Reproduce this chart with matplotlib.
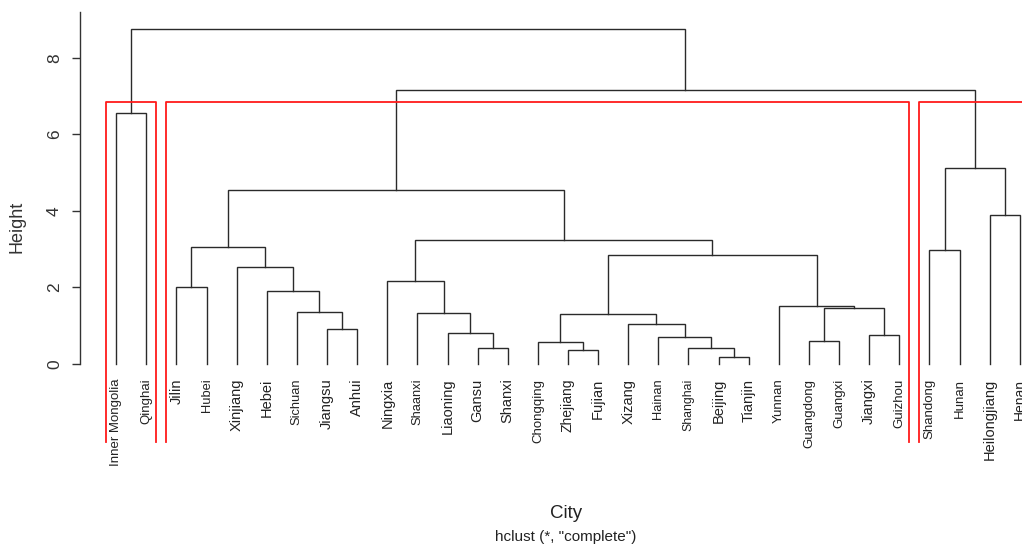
import matplotlib
matplotlib.use("Agg")
import matplotlib.pyplot as plt

# ---- data -------------------------------------------------------------
labels = ["Inner Mongolia", "Qinghai", "Jilin", "Hubei", "Xinjiang", "Hebei",
          "Sichuan", "Jiangsu", "Anhui", "Ningxia", "Shaanxi", "Liaoning",
          "Gansu", "Shanxi", "Chongqing", "Zhejiang", "Fujian", "Xizang",
          "Hainan", "Shanghai", "Beijing", "Tianjin", "Yunnan", "Guangdong",
          "Guangxi", "Jiangxi", "Guizhou", "Shandong", "Hunan",
          "Heilongjiang", "Henan"]

# R-style merge matrix (negative = leaf position, positive = earlier merge)
merge_left = [-21, -16, -13, -20, -15, -24, -19, -26, -12, -8,
              -18, 5, -11, -7, 6, -23, -6, -3, -10, -5,
              12, -28, 18, 19, -30, 23, 22, -1, 26, 28]
merge_right = [-22, -17, -14, 1, 2, -25, 4, -27, 3, -9,
               7, 11, 9, 10, 8, 15, 14, -4, 13, 17,
               16, -29, 20, 21, -31, 24, 25, -2, 27, 29]
merge_height = [0.17, 0.37, 0.43, 0.43, 0.58, 0.59, 0.71, 0.77, 0.82, 0.91,
                1.05, 1.31, 1.34, 1.36, 1.46, 1.52, 1.91, 2.00, 2.17, 2.53,
                2.85, 2.99, 3.07, 3.24, 3.90, 4.56, 5.13, 6.55, 7.15, 8.76]

n_clusters = 3
y_ticks = [0, 2, 4, 6, 8]

# ---- style -------------------------------------------------------------
label_sizes = [9.5, 9.5, 10.5, 9.3, 10.5, 10.5, 9.3, 10.5, 10.5, 10.5, 9.3, 10.5,
               10.5, 10.5, 9.5, 10, 10.5, 10.5, 9.3, 8.8, 10.5, 10.5, 9.5,
               9.5, 9.5, 10.5, 9.5, 9.5, 9.5, 10.5, 10]
FONT = ["Liberation Sans", "DejaVu Sans"]
LINE_C = "#2a2a2a"

W, H = 1022, 547
fig = plt.figure(figsize=(W / 100, H / 100), dpi=100)
# plot region in pixels: left 80, right 1056 (beyond figure), top 12, bottom 442
ax = fig.add_axes([80 / W, (H - 442) / H, (1056 - 80) / W, (442 - 12) / H])
n = len(labels)
ax.set_xlim(-0.2, n + 1.2)
ax.set_ylim(-2.04, 9.2)

# ---- dendrogram -------------------------------------------------------
node_x = {}
node_y = {}


def pos(ref):
    if ref < 0:
        return float(-ref), 0.0
    return node_x[ref], node_y[ref]


for i in range(len(merge_height)):
    lx, ly = pos(merge_left[i])
    rx, ry = pos(merge_right[i])
    h = merge_height[i]
    ax.plot([lx, lx, rx, rx], [ly, h, h, ry], color=LINE_C, lw=1.0,
            solid_joinstyle="miter", clip_on=False)
    node_x[i + 1] = (lx + rx) / 2
    node_y[i + 1] = h

# leaf labels
for i, lab in enumerate(labels):
    ax.annotate(lab, xy=(i + 1, 0), xytext=(0, -10.5), textcoords="offset points",
                rotation=90, ha="center", va="top", fontsize=label_sizes[i],
                family=FONT, color="#222222", annotation_clip=False)

# ---- rect.hclust boxes -------------------------------------------------
def leaves_of(ref):
    if ref < 0:
        return [-ref]
    return leaves_of(merge_left[ref - 1]) + leaves_of(merge_right[ref - 1])


roots = [len(merge_height)]
while len(roots) < n_clusters:
    top = max(r for r in roots if r > 0)
    roots.remove(top)
    roots += [merge_left[top - 1], merge_right[top - 1]]
groups = sorted((min(leaves_of(r)), max(leaves_of(r))) for r in roots)
sorted_h = sorted(merge_height, reverse=True)
box_top = (sorted_h[n_clusters - 2] + sorted_h[n_clusters - 1]) / 2
ybot = ax.get_ylim()[0]
for lo, hi in groups:
    x0, x1 = lo - 1 + 0.66, hi + 0.33
    ax.plot([x0, x0, x1, x1], [ybot, box_top, box_top, ybot], color="#ff1a1a",
            lw=1.3, clip_on=False)

# ---- axes --------------------------------------------------------------
for s in ["top", "right", "bottom"]:
    ax.spines[s].set_visible(False)
ax.spines["left"].set_bounds(0, 9.2)
ax.spines["left"].set_color("#333333")
ax.spines["left"].set_linewidth(1.0)
ax.set_xticks([])
ax.set_yticks(y_ticks)
ax.set_yticklabels([str(t) for t in y_ticks], rotation=90, va="center",
                   fontsize=12.5, family=FONT, color="#333333")
ax.tick_params(axis="y", length=6, width=1.0, color="#333333", pad=7)

fig.text(17 / W, 1 - 227 / H, "Height", rotation=90, ha="center", va="center",
         fontsize=13, family=FONT, color="#333333")
fig.text(566 / W, 1 - 513 / H, "City", ha="center", va="center",
         fontsize=13.5, family=FONT, color="#222222")
fig.text(566 / W, 1 - 537 / H, 'hclust (*, "complete")', ha="center",
         va="center", fontsize=11, family=FONT, color="#222222")

fig.savefig("out.png", dpi=100)
